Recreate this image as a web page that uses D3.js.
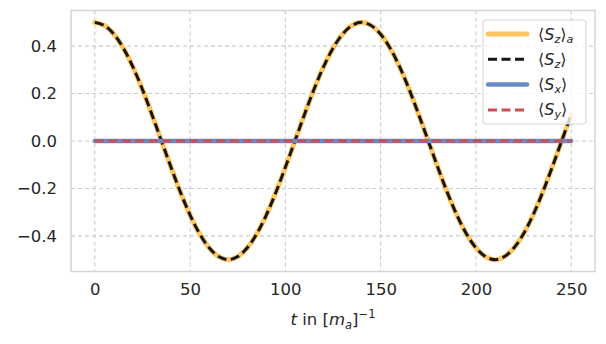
<!DOCTYPE html>
<html lang="en">
<head>
<meta charset="UTF-8">
<script src="https://cdn.jsdelivr.net/npm/d3@7"></script>
<style>
    body { margin: 0; background: white; }
    svg, svg text { font-family: "DejaVu Sans", sans-serif; }
    .tick text { fill: #262626; font-size: 16.5px; font-family: "DejaVu Sans", sans-serif; }
    .math { font-style: italic; }
</style>
</head>
<body>
<script>
    // ---------------- data ----------------
    const tValues = [0, 5, 10, 15, 20, 25, 30, 35, 40, 45, 50, 55, 60, 65, 70, 75, 80, 85, 90, 95,
        100, 105, 110, 115, 120, 125, 130, 135, 140, 145, 150, 155, 160, 165, 170, 175, 180, 185, 190, 195,
        200, 205, 210, 215, 220, 225, 230, 235, 240, 245, 250];
    const szA = [0.500, 0.487, 0.450, 0.391, 0.312, 0.217, 0.111, 0.000, -0.111, -0.217,
        -0.312, -0.391, -0.450, -0.487, -0.500, -0.487, -0.450, -0.391, -0.312, -0.217,
        -0.111, 0.000, 0.111, 0.217, 0.312, 0.391, 0.450, 0.487, 0.500, 0.487,
        0.450, 0.391, 0.312, 0.217, 0.111, 0.000, -0.111, -0.217, -0.312, -0.391,
        -0.450, -0.487, -0.500, -0.487, -0.450, -0.391, -0.312, -0.217, -0.111, 0.000, 0.111];
    const sz = szA.slice();
    const tFlat = [0, 250];
    const sx = [0.0, 0.0];
    const sy = [0.0, 0.0];
    const xTicks = [0, 50, 100, 150, 200, 250];
    const yTicks = [-0.4, -0.2, 0.0, 0.2, 0.4];

    // ---------------- layout ----------------
    const W = 606, H = 344;
    const plot = { left: 71, right: 595, top: 10.5, bottom: 271.5 };

    const svg = d3.select("body").append("svg")
        .attr("width", W)
        .attr("height", H);

    const x = d3.scaleLinear().domain([-12.5, 262.5]).range([plot.left, plot.right]);
    const y = d3.scaleLinear().domain([-0.55, 0.55]).range([plot.bottom, plot.top]);

    // grid
    const grid = svg.append("g");
    grid.selectAll(".vg").data(xTicks).enter().append("line")
        .attr("x1", d => x(d)).attr("x2", d => x(d))
        .attr("y1", plot.top).attr("y2", plot.bottom)
        .attr("stroke", "#cccccc").attr("stroke-width", 1.1)
        .attr("stroke-dasharray", "4,3");
    grid.selectAll(".hg").data(yTicks).enter().append("line")
        .attr("y1", d => y(d)).attr("y2", d => y(d))
        .attr("x1", plot.left).attr("x2", plot.right)
        .attr("stroke", "#cccccc").attr("stroke-width", 1.1)
        .attr("stroke-dasharray", "4,3");

    // axes (labels only)
    const xAxis = svg.append("g")
        .attr("transform", `translate(0,${plot.bottom})`)
        .call(d3.axisBottom(x).tickValues(xTicks).tickSize(0).tickPadding(12));
    const yAxis = svg.append("g")
        .attr("transform", `translate(${plot.left},0)`)
        .call(d3.axisLeft(y).tickValues(yTicks).tickFormat(d3.format(".1f")).tickSize(0).tickPadding(14));
    xAxis.select(".domain").remove();
    yAxis.select(".domain").remove();
    xAxis.attr("font-family", null).attr("font-size", null);
    yAxis.attr("font-family", null).attr("font-size", null);

    // lines
    const line = d3.line()
        .x(d => x(d[0]))
        .y(d => y(d[1]))
        .curve(d3.curveCatmullRom.alpha(0.5));

    const series = [
        { t: tValues, v: szA, color: "#fec65c", width: 5, dash: null },
        { t: tValues, v: sz, color: "#151515", width: 3, dash: "9,4.5" },
        { t: tFlat, v: sx, color: "#6b8bc6", width: 4.5, dash: null },
        { t: tFlat, v: sy, color: "#c94f55", width: 3, dash: "9,4.5" }
    ];

    series.forEach(s => {
        svg.append("path")
            .datum(s.t.map((t, i) => [t, s.v[i]]))
            .attr("d", line)
            .attr("fill", "none")
            .attr("stroke", s.color)
            .attr("stroke-width", s.width)
            .attr("stroke-dasharray", s.dash)
            .attr("stroke-linecap", s.dash ? "butt" : "round");
    });

    // frame
    svg.append("rect")
        .attr("x", plot.left).attr("y", plot.top)
        .attr("width", plot.right - plot.left).attr("height", plot.bottom - plot.top)
        .attr("fill", "none").attr("stroke", "#d4d4d4").attr("stroke-width", 1.5);

    // x label
    const xl = svg.append("text")
        .attr("x", (plot.left + plot.right) / 2)
        .attr("y", 325)
        .attr("text-anchor", "middle")
        .attr("fill", "#262626")
        .style("font-size", "16.5px");
    xl.append("tspan").attr("class", "math").text("t");
    xl.append("tspan").text(" in [");
    xl.append("tspan").attr("class", "math").text("m");
    xl.append("tspan").attr("class", "math").attr("dy", 4).style("font-size", "11.5px").text("a");
    xl.append("tspan").attr("dy", -4).text("]");
    xl.append("tspan").attr("dy", -7).style("font-size", "11.5px").text("−1");

    // legend
    const legend = svg.append("g").attr("transform", "translate(483,20)");
    legend.append("rect")
        .attr("width", 103).attr("height", 104).attr("rx", 3)
        .attr("fill", "white").attr("fill-opacity", 0.8)
        .attr("stroke", "#d4d4d4").attr("stroke-width", 1);

    const labels = [["S", "z", "a"], ["S", "z", ""], ["S", "x", ""], ["S", "y", ""]];
    series.forEach((s, i) => {
        const ly = 14 + i * 25.3;
        legend.append("line")
            .attr("x1", 5).attr("x2", 44)
            .attr("y1", ly).attr("y2", ly)
            .attr("stroke", s.color)
            .attr("stroke-width", s.width)
            .attr("stroke-dasharray", s.dash)
            .attr("stroke-linecap", s.dash ? "butt" : "round");
        const t = legend.append("text")
            .attr("x", 55).attr("y", ly + 5.5)
            .attr("fill", "#262626")
            .style("font-size", "16px");
        const [a, sub, sub2] = labels[i];
        t.append("tspan").text("⟨");
        t.append("tspan").attr("class", "math").text(a);
        t.append("tspan").attr("class", "math").attr("dy", 3).style("font-size", "11px").text(sub);
        t.append("tspan").attr("dy", -3).text("⟩");
        if (sub2) t.append("tspan").attr("class", "math").attr("dy", 3).style("font-size", "11px").text(sub2);
    });
</script>
</body>
</html>
